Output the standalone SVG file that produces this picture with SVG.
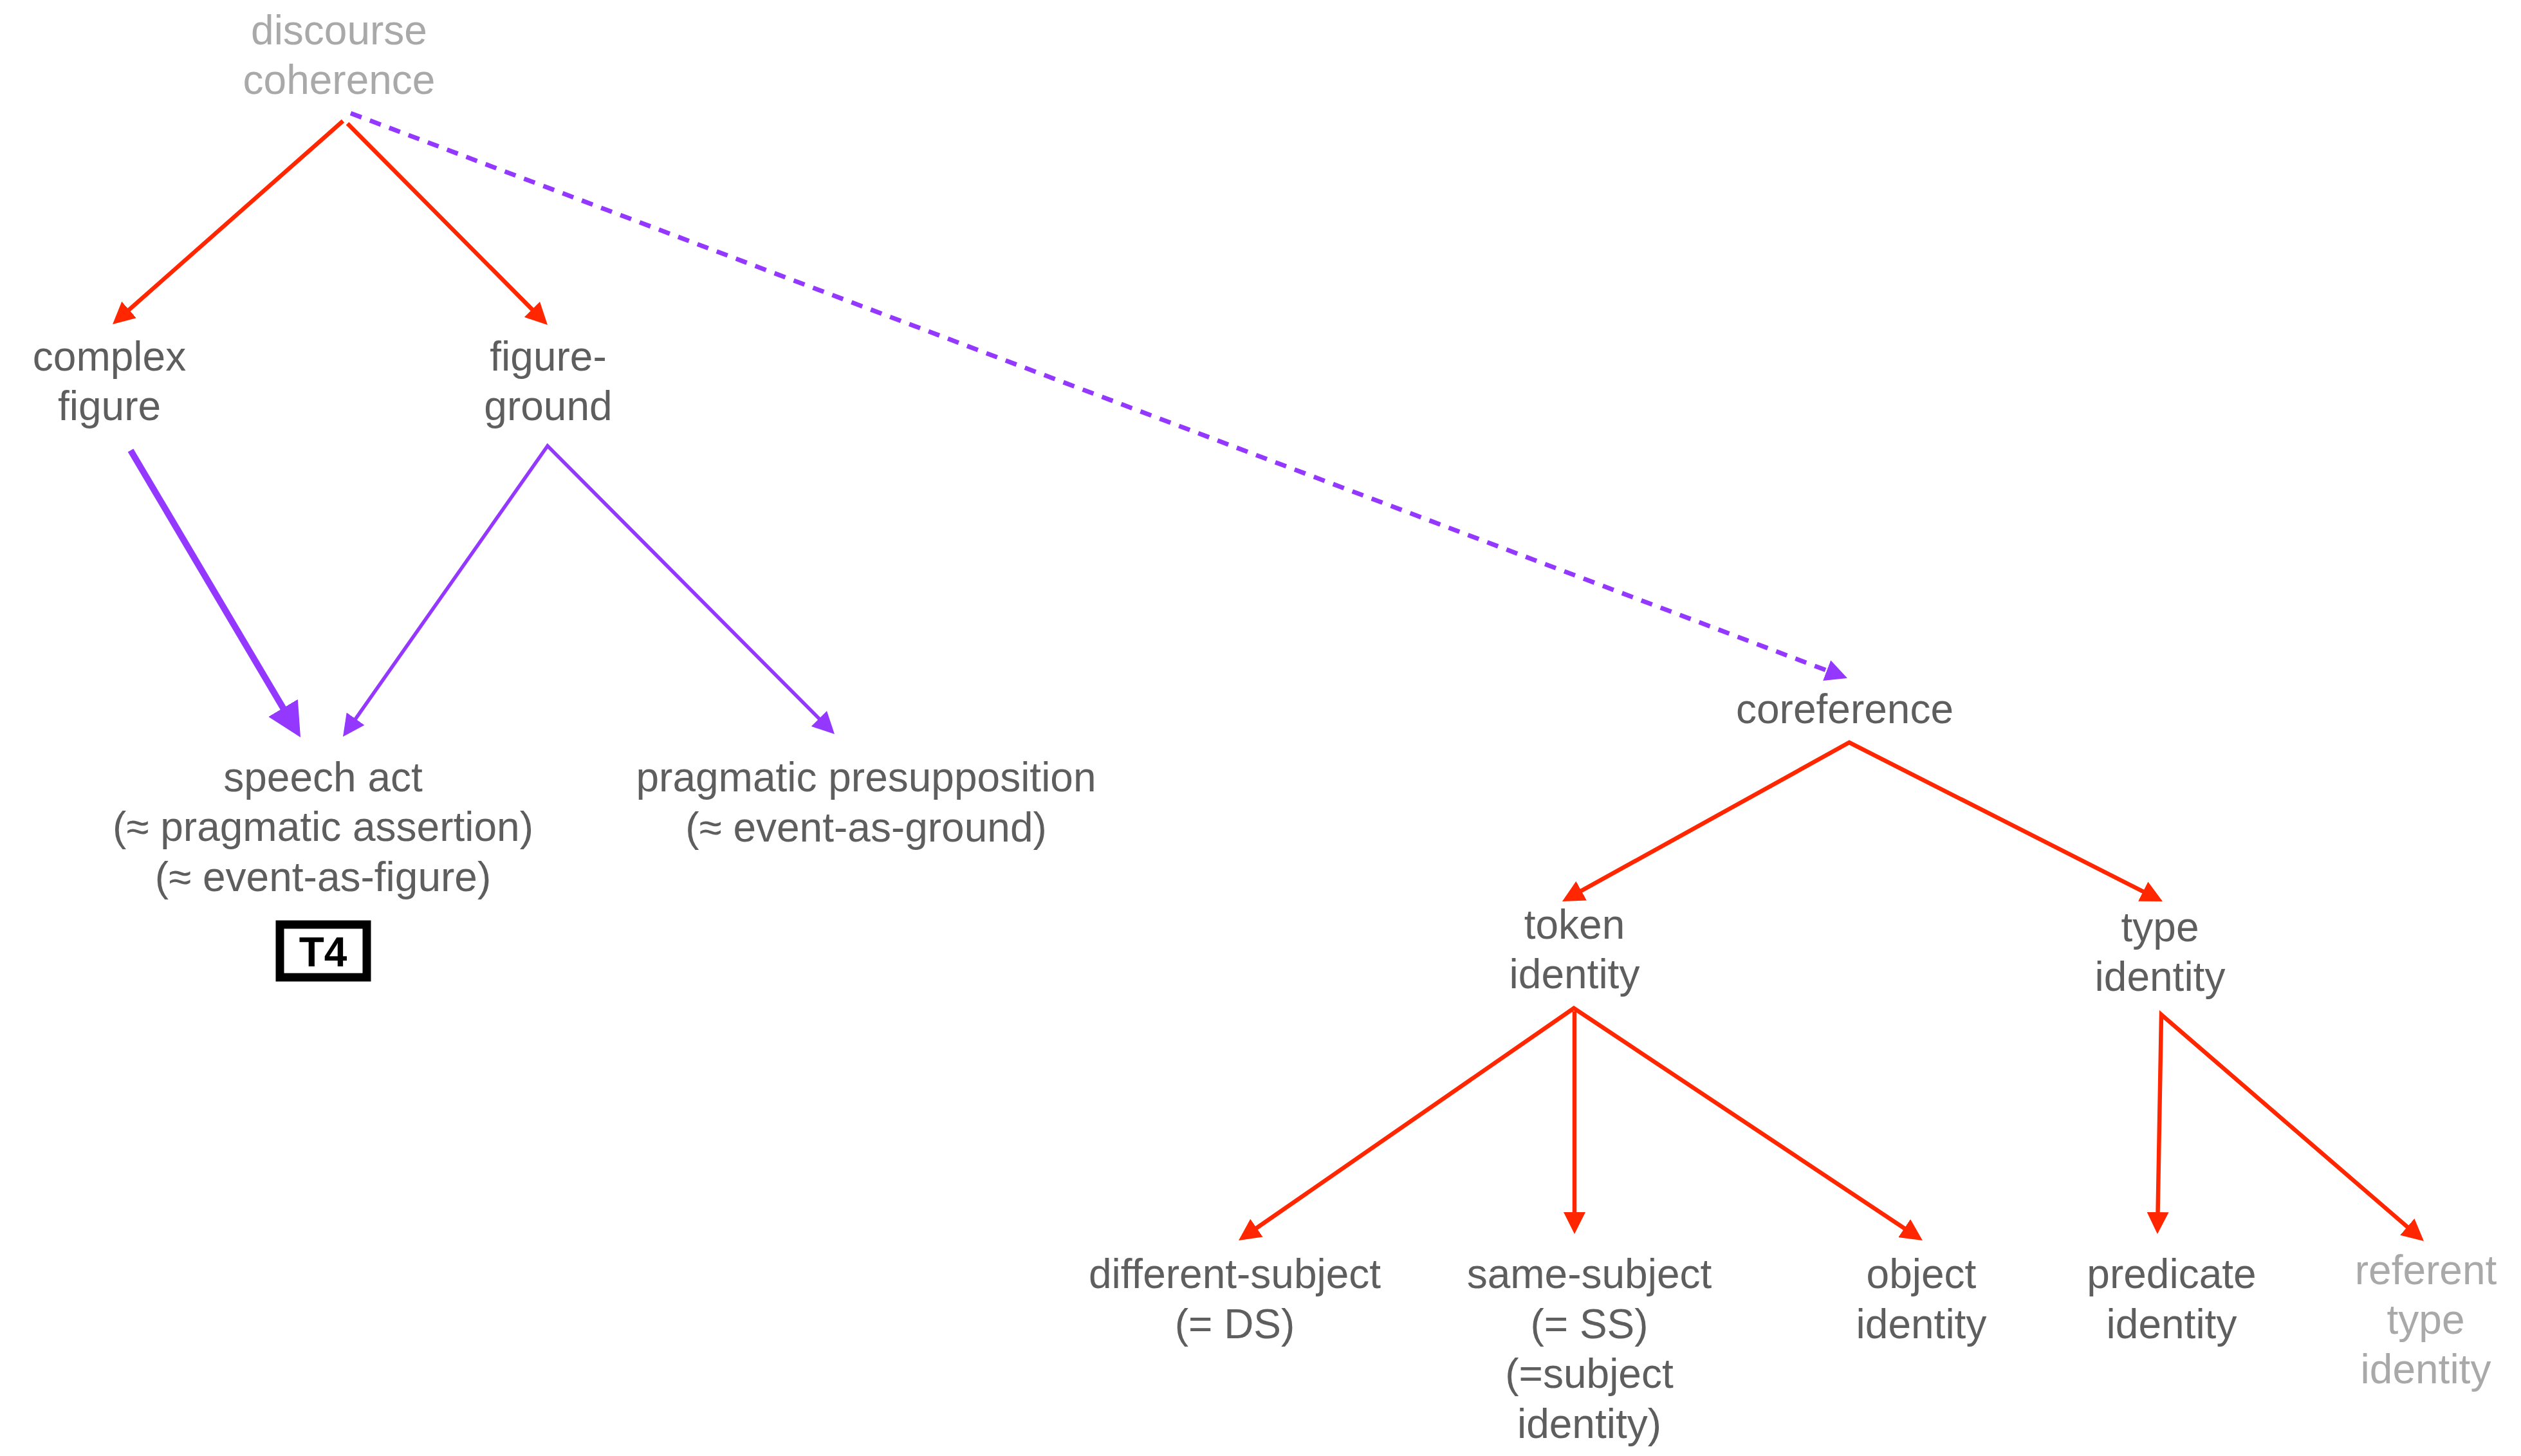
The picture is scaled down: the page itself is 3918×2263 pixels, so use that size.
<svg xmlns="http://www.w3.org/2000/svg" width="3918" height="2263" viewBox="0 0 3918 2263">
<style>
text { font-family: "Liberation Sans", Arial, Helvetica, sans-serif; font-size: 64px; text-anchor: middle; }
.dark { fill: #5E5E5E; }
.light { fill: #A9A9A9; }
.red { fill: none; stroke: #FF2600; stroke-width: 6.5; stroke-linejoin: miter; stroke-miterlimit: 20; }
.purple { fill: none; stroke: #9437FF; stroke-width: 5.5; stroke-linejoin: miter; stroke-miterlimit: 20; }
.thick { fill: none; stroke: #9437FF; stroke-width: 10; }
.dotted { fill: none; stroke: #9437FF; stroke-width: 7; stroke-dasharray: 18 14; }
</style>
<defs>
<marker id="arrRed" viewBox="0 0 34 34" markerWidth="34" markerHeight="34" refX="20" refY="17" orient="auto-start-reverse" markerUnits="userSpaceOnUse">
<path d="M0,0 L34,17 L0,34 z" fill="#FF2600"/>
</marker>
<marker id="arrPurple" viewBox="0 0 34 34" markerWidth="34" markerHeight="34" refX="20" refY="17" orient="auto-start-reverse" markerUnits="userSpaceOnUse">
<path d="M0,0 L34,17 L0,34 z" fill="#9437FF"/>
</marker>
<marker id="arrPurpleBig" viewBox="0 0 53 53" markerWidth="53" markerHeight="53" refX="31" refY="26.5" orient="auto" markerUnits="userSpaceOnUse">
<path d="M0,0 L53,26.5 L0,53 z" fill="#9437FF"/>
</marker>
</defs>

<g id="connectors">
<path class="red" d="M533,188 L185.5,494.7" marker-end="url(#arrRed)"/>
<path class="red" d="M540,192 L841.1,495.1" marker-end="url(#arrRed)"/>
<path class="dotted" d="M545,176 L2857.9,1049.1" marker-end="url(#arrPurple)"/>
<path class="thick" d="M203,700 L455.8,1127.1" marker-end="url(#arrPurpleBig)"/>
<path class="purple" d="M541.1,1133.6 L851,693 L1287.1,1131.1" marker-start="url(#arrPurple)" marker-end="url(#arrPurple)"/>
<path class="red" d="M2440.2,1394.2 L2874,1154 L3348.5,1394.7" marker-start="url(#arrRed)" marker-end="url(#arrRed)"/>
<path class="red" d="M1936.5,1920 L2446,1567 L2976.3,1920.2" marker-start="url(#arrRed)" marker-end="url(#arrRed)"/>
<path class="red" d="M2447,1572 L2447,1904" marker-end="url(#arrRed)"/>
<path class="red" d="M3353.2,1904 L3359,1577 L3756.4,1919.9" marker-start="url(#arrRed)" marker-end="url(#arrRed)"/>
</g>

<g id="discourse-coherence">
<text class="light" x="527" y="69">discourse</text>
<text class="light" x="527" y="146">coherence</text>
</g>
<g id="complex-figure">
<text class="dark" x="170" y="576">complex</text>
<text class="dark" x="170" y="653">figure</text>
</g>
<g id="figure-ground">
<text class="dark" x="852" y="576">figure-</text>
<text class="dark" x="852" y="653">ground</text>
</g>
<g id="speech-act">
<text class="dark" x="502" y="1230">speech act</text>
<text class="dark" x="502" y="1307">(≈ pragmatic assertion)</text>
<text class="dark" x="502" y="1385">(≈ event-as-figure)</text>
</g>
<g id="T4">
<rect x="435" y="1437" width="135" height="82" fill="#FFFFFF" stroke="#000000" stroke-width="13"/>
<text x="502" y="1502" style="font-weight:bold; fill:#000000;">T4</text>
</g>
<g id="pragmatic-presupposition">
<text class="dark" x="1346" y="1230">pragmatic presupposition</text>
<text class="dark" x="1346" y="1308">(≈ event-as-ground)</text>
</g>
<g id="coreference">
<text class="dark" x="2867" y="1124">coreference</text>
</g>
<g id="token-identity">
<text class="dark" x="2447" y="1459">token</text>
<text class="dark" x="2447" y="1536">identity</text>
</g>
<g id="type-identity">
<text class="dark" x="3357" y="1463">type</text>
<text class="dark" x="3357" y="1540">identity</text>
</g>
<g id="different-subject">
<text class="dark" x="1919" y="2002">different-subject</text>
<text class="dark" x="1919" y="2080">(= DS)</text>
</g>
<g id="same-subject">
<text class="dark" x="2470" y="2002">same-subject</text>
<text class="dark" x="2470" y="2080">(= SS)</text>
<text class="dark" x="2470" y="2157">(=subject</text>
<text class="dark" x="2470" y="2235">identity)</text>
</g>
<g id="object-identity">
<text class="dark" x="2986" y="2002">object</text>
<text class="dark" x="2986" y="2080">identity</text>
</g>
<g id="predicate-identity">
<text class="dark" x="3375" y="2002">predicate</text>
<text class="dark" x="3375" y="2080">identity</text>
</g>
<g id="referent-type-identity">
<text class="light" x="3770" y="1996">referent</text>
<text class="light" x="3770" y="2073">type</text>
<text class="light" x="3770" y="2150">identity</text>
</g>
</svg>
